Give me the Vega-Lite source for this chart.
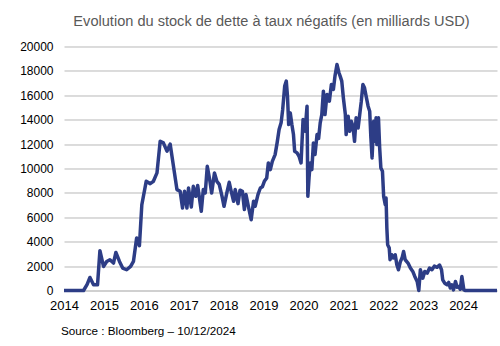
{
  "$schema": "https://vega.github.io/schema/vega-lite/v6.json",
  "width": 433,
  "height": 244,
  "autosize": {"type": "none"},
  "padding": {"left": 64, "top": 46.5, "right": 3, "bottom": 55.3},
  "background": "white",
  "title": {
    "text": "Evolution du stock de dette à taux négatifs (en milliards USD)",
    "font": "Liberation Sans",
    "fontSize": 14.6,
    "fontWeight": "normal",
    "color": "#595959",
    "anchor": "middle",
    "dx": -9,
    "offset": 12
  },
  "config": {"view": {"stroke": null}},
  "data": {
    "values": [
      {"t": 2014.0, "v": 0}, {"t": 2014.49, "v": 0}, {"t": 2014.58, "v": 500}, {"t": 2014.65, "v": 1070},
      {"t": 2014.74, "v": 470}, {"t": 2014.84, "v": 470}, {"t": 2014.90, "v": 3260}, {"t": 2014.99, "v": 1970},
      {"t": 2015.07, "v": 2380}, {"t": 2015.15, "v": 2520}, {"t": 2015.24, "v": 2250}, {"t": 2015.30, "v": 3120},
      {"t": 2015.39, "v": 2380}, {"t": 2015.47, "v": 1840}, {"t": 2015.57, "v": 1700}, {"t": 2015.67, "v": 1970},
      {"t": 2015.74, "v": 2380}, {"t": 2015.82, "v": 4300}, {"t": 2015.89, "v": 3670}, {"t": 2015.95, "v": 7030},
      {"t": 2016.06, "v": 8950}, {"t": 2016.16, "v": 8760}, {"t": 2016.24, "v": 8950}, {"t": 2016.33, "v": 9640},
      {"t": 2016.41, "v": 12240}, {"t": 2016.49, "v": 12100}, {"t": 2016.58, "v": 11420}, {"t": 2016.66, "v": 12000},
      {"t": 2016.83, "v": 8270}, {"t": 2016.91, "v": 8130}, {"t": 2016.97, "v": 6760}, {"t": 2017.02, "v": 8130},
      {"t": 2017.08, "v": 6760}, {"t": 2017.12, "v": 8400}, {"t": 2017.19, "v": 6840}, {"t": 2017.24, "v": 8540},
      {"t": 2017.30, "v": 7720}, {"t": 2017.35, "v": 8600}, {"t": 2017.44, "v": 6490}, {"t": 2017.49, "v": 8270},
      {"t": 2017.54, "v": 8000}, {"t": 2017.59, "v": 10180}, {"t": 2017.65, "v": 9090}, {"t": 2017.70, "v": 8000},
      {"t": 2017.77, "v": 9640}, {"t": 2017.83, "v": 8950}, {"t": 2017.89, "v": 8700}, {"t": 2017.96, "v": 7720},
      {"t": 2018.01, "v": 6900}, {"t": 2018.08, "v": 8000}, {"t": 2018.14, "v": 8870}, {"t": 2018.19, "v": 8130},
      {"t": 2018.25, "v": 7310}, {"t": 2018.29, "v": 8270}, {"t": 2018.36, "v": 7120}, {"t": 2018.41, "v": 8220},
      {"t": 2018.47, "v": 8130}, {"t": 2018.52, "v": 6630}, {"t": 2018.56, "v": 7860}, {"t": 2018.62, "v": 6900},
      {"t": 2018.69, "v": 5800}, {"t": 2018.75, "v": 7310}, {"t": 2018.79, "v": 6900}, {"t": 2018.86, "v": 7860},
      {"t": 2018.92, "v": 8400}, {"t": 2018.97, "v": 8500}, {"t": 2019.02, "v": 8950}, {"t": 2019.08, "v": 9230},
      {"t": 2019.12, "v": 10460}, {"t": 2019.17, "v": 9910}, {"t": 2019.22, "v": 10590}, {"t": 2019.29, "v": 11140},
      {"t": 2019.34, "v": 12100}, {"t": 2019.39, "v": 13190}, {"t": 2019.44, "v": 13740}, {"t": 2019.48, "v": 14840},
      {"t": 2019.53, "v": 16750}, {"t": 2019.57, "v": 17160}, {"t": 2019.60, "v": 15930}, {"t": 2019.63, "v": 13600},
      {"t": 2019.67, "v": 14560}, {"t": 2019.71, "v": 13600}, {"t": 2019.75, "v": 12780}, {"t": 2019.78, "v": 11410},
      {"t": 2019.84, "v": 11280}, {"t": 2019.89, "v": 11000}, {"t": 2019.94, "v": 10460}, {"t": 2019.99, "v": 14010},
      {"t": 2020.04, "v": 13050}, {"t": 2020.09, "v": 15110}, {"t": 2020.11, "v": 7720}, {"t": 2020.14, "v": 9230},
      {"t": 2020.17, "v": 10460}, {"t": 2020.21, "v": 9910}, {"t": 2020.25, "v": 12100}, {"t": 2020.29, "v": 11140},
      {"t": 2020.34, "v": 12780}, {"t": 2020.38, "v": 12460}, {"t": 2020.42, "v": 13740}, {"t": 2020.46, "v": 14420},
      {"t": 2020.50, "v": 16340}, {"t": 2020.54, "v": 14420}, {"t": 2020.59, "v": 16070}, {"t": 2020.65, "v": 15520},
      {"t": 2020.70, "v": 16890}, {"t": 2020.75, "v": 16480}, {"t": 2020.79, "v": 17570}, {"t": 2020.84, "v": 18530},
      {"t": 2020.89, "v": 17850}, {"t": 2020.92, "v": 17570}, {"t": 2020.96, "v": 17160}, {"t": 2021.00, "v": 15800},
      {"t": 2021.05, "v": 14420}, {"t": 2021.07, "v": 12780}, {"t": 2021.12, "v": 14280}, {"t": 2021.16, "v": 13050},
      {"t": 2021.20, "v": 13870}, {"t": 2021.24, "v": 13460}, {"t": 2021.28, "v": 12230}, {"t": 2021.32, "v": 14150},
      {"t": 2021.37, "v": 13320}, {"t": 2021.41, "v": 14420}, {"t": 2021.45, "v": 15520}, {"t": 2021.49, "v": 16890},
      {"t": 2021.53, "v": 16610}, {"t": 2021.57, "v": 15930}, {"t": 2021.62, "v": 15110}, {"t": 2021.66, "v": 14700},
      {"t": 2021.69, "v": 12510}, {"t": 2021.72, "v": 10870}, {"t": 2021.76, "v": 13870}, {"t": 2021.78, "v": 12230},
      {"t": 2021.82, "v": 14150}, {"t": 2021.84, "v": 11960}, {"t": 2021.88, "v": 14150}, {"t": 2021.91, "v": 11690},
      {"t": 2021.94, "v": 10050}, {"t": 2021.98, "v": 9770}, {"t": 2022.01, "v": 7720}, {"t": 2022.05, "v": 7040},
      {"t": 2022.07, "v": 7580}, {"t": 2022.09, "v": 5120}, {"t": 2022.11, "v": 3750}, {"t": 2022.15, "v": 3480},
      {"t": 2022.17, "v": 2520}, {"t": 2022.21, "v": 2930}, {"t": 2022.25, "v": 2660}, {"t": 2022.30, "v": 2930},
      {"t": 2022.34, "v": 2110}, {"t": 2022.38, "v": 1700}, {"t": 2022.43, "v": 2380}, {"t": 2022.47, "v": 2660},
      {"t": 2022.51, "v": 3200}, {"t": 2022.55, "v": 2520}, {"t": 2022.62, "v": 2250}, {"t": 2022.68, "v": 1840},
      {"t": 2022.74, "v": 1560}, {"t": 2022.79, "v": 1150}, {"t": 2022.85, "v": 740}, {"t": 2022.89, "v": 0},
      {"t": 2022.93, "v": 1700}, {"t": 2022.99, "v": 1010}, {"t": 2023.04, "v": 1560}, {"t": 2023.10, "v": 1420},
      {"t": 2023.16, "v": 1840}, {"t": 2023.22, "v": 1700}, {"t": 2023.28, "v": 2000}, {"t": 2023.35, "v": 1900},
      {"t": 2023.41, "v": 2090}, {"t": 2023.46, "v": 1700}, {"t": 2023.49, "v": 880}, {"t": 2023.54, "v": 600},
      {"t": 2023.60, "v": 470}, {"t": 2023.64, "v": 660}, {"t": 2023.68, "v": 200}, {"t": 2023.72, "v": 470},
      {"t": 2023.76, "v": 50}, {"t": 2023.81, "v": 740}, {"t": 2023.85, "v": 270}, {"t": 2023.89, "v": 330},
      {"t": 2023.93, "v": 100}, {"t": 2023.97, "v": 1150}, {"t": 2024.02, "v": 50}, {"t": 2024.06, "v": 0},
      {"t": 2024.85, "v": 0}
    ]
  },
  "mark": {"type": "line", "color": "#2d3d86", "strokeWidth": 3.5, "strokeJoin": "round"},
  "encoding": {
    "x": {
      "field": "t",
      "type": "quantitative",
      "scale": {"domain": [2014, 2024.85], "nice": false, "zero": false},
      "axis": {
        "values": [2014, 2015, 2016, 2017, 2018, 2019, 2020, 2021, 2022, 2023, 2024],
        "format": "d",
        "grid": false,
        "ticks": false,
        "domain": true,
        "domainColor": "#d0d0d0",
        "domainWidth": 2,
        "labelFont": "Liberation Sans",
        "labelFontSize": 13,
        "labelColor": "#000000",
        "labelPadding": 9,
        "labelFlush": false,
        "title": "Source : Bloomberg – 10/12/2024",
        "titleFont": "Liberation Sans",
        "titleFontSize": 11.7,
        "titleFontWeight": "normal",
        "titleColor": "#000000",
        "titleAnchor": "start",
        "titleAlign": "left",
        "titleX": -3.5,
        "titleY": 44.5,
        "titleBaseline": "alphabetic"
      }
    },
    "y": {
      "field": "v",
      "type": "quantitative",
      "scale": {"domain": [0, 20000], "nice": false},
      "axis": {
        "values": [0, 2000, 4000, 6000, 8000, 10000, 12000, 14000, 16000, 18000, 20000],
        "format": "d",
        "grid": true,
        "gridColor": "#b8b8b8",
        "gridWidth": 1,
        "ticks": false,
        "domain": false,
        "labelFont": "Liberation Sans",
        "labelFontSize": 12,
        "labelColor": "#000000",
        "labelPadding": 11,
        "title": null
      }
    }
  }
}
